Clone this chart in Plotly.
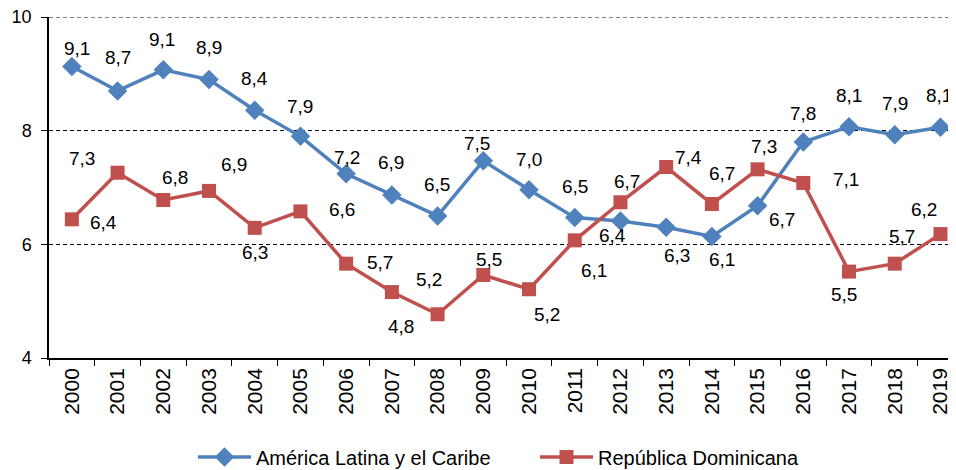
import plotly.graph_objects as go

years = [str(y) for y in range(2000, 2020)]
america_latina = [9.13, 8.70, 9.07, 8.90, 8.36, 7.90, 7.24, 6.87, 6.50, 7.47,
                  6.96, 6.47, 6.41, 6.30, 6.14, 6.68, 7.80, 8.07, 7.93, 8.06]
rep_dominicana = [6.44, 7.26, 6.78, 6.94, 6.29, 6.58, 5.66, 5.16, 4.77, 5.46,
                  5.21, 6.07, 6.74, 7.36, 6.71, 7.32, 7.08, 5.52, 5.66, 6.18]
y_ticks = [4, 6, 8, 10]

# label offsets in pixels (dx right, dy down)
al_off = [(5, -18), (0, -33), (-1, -30), (0, -32), (0, -32), (0, -30), (1, -16),
          (-1, -32), (-1, -31), (-6, -17), (0, -30), (0, -31), (-8, 14), (11, 28),
          (10, 23), (24, 14), (0, -29), (0, -31), (0, -31), (-1, -32)]
rd_off = [(32, 3), (-36, -14), (12, -23), (25, -26), (0, 25), (42, -2), (34, -1),
          (37, -13), (-37, 12), (6, -16), (18, 25), (19, 30), (7, -21), (22, -10),
          (10, -30), (6, -23), (43, -3), (-5, 23), (7, -27), (-16, -25)]

BLUE = "#4F81BD"
RED = "#C0504D"
FONT = "Liberation Sans, Arial, sans-serif"

fig = go.Figure()
fig.add_trace(go.Scatter(x=years, y=america_latina, mode="lines+markers",
                         name="América Latina y el Caribe",
                         line=dict(color=BLUE, width=3.5),
                         marker=dict(symbol="diamond", size=15, color=BLUE)))
fig.add_trace(go.Scatter(x=years, y=rep_dominicana, mode="lines+markers",
                         name="República Dominicana",
                         line=dict(color=RED, width=3.5),
                         marker=dict(symbol="square", size=14, color=RED)))

def fmt(v):
    return f"{v:.1f}".replace(".", ",")

for vals, offs in ((america_latina, al_off), (rep_dominicana, rd_off)):
    for i, (v, (dx, dy)) in enumerate(zip(vals, offs)):
        fig.add_annotation(x=i, y=v, xref="x", yref="y", text=fmt(v),
                           showarrow=False, xshift=dx, yshift=-dy,
                           font=dict(size=19, color="#000000", family=FONT))

# dashed line at the top of the value axis
fig.add_shape(type="line", xref="paper", yref="y", x0=0, x1=1, y0=10, y1=10,
              line=dict(color="black", width=1, dash="4px,3px"))

fig.update_layout(
    width=948, height=462,
    margin=dict(l=41, r=0, t=9, b=112),
    paper_bgcolor="white", plot_bgcolor="white",
    font=dict(family=FONT, color="#000000", size=18),
    showlegend=True,
    legend=dict(orientation="h", xref="container", yref="container",
                x=185 / 948, xanchor="left", y=0.028, yanchor="middle",
                font=dict(size=20), itemwidth=53, traceorder="normal",
                entrywidth=274, entrywidthmode="pixels"),
)
fig.update_xaxes(type="category", range=[-0.5, 19.34], tickson="boundaries",
                 ticks="outside", ticklen=6, tickcolor="black",
                 showline=True, linecolor="black", linewidth=1.5,
                 showgrid=False, tickangle=-90,
                 tickfont=dict(size=21), fixedrange=True)
fig.update_yaxes(range=[4, 10], tickvals=y_ticks, ticks="outside", ticklen=6,
                 tickcolor="black", showline=True, linecolor="black", linewidth=1.5,
                 showgrid=True, gridcolor="black", gridwidth=1, griddash="4px,3px",
                 tickfont=dict(size=18), zeroline=False, ticklabelstandoff=6,
                 ticklabeloverflow="allow")

fig.write_html("out.html")
